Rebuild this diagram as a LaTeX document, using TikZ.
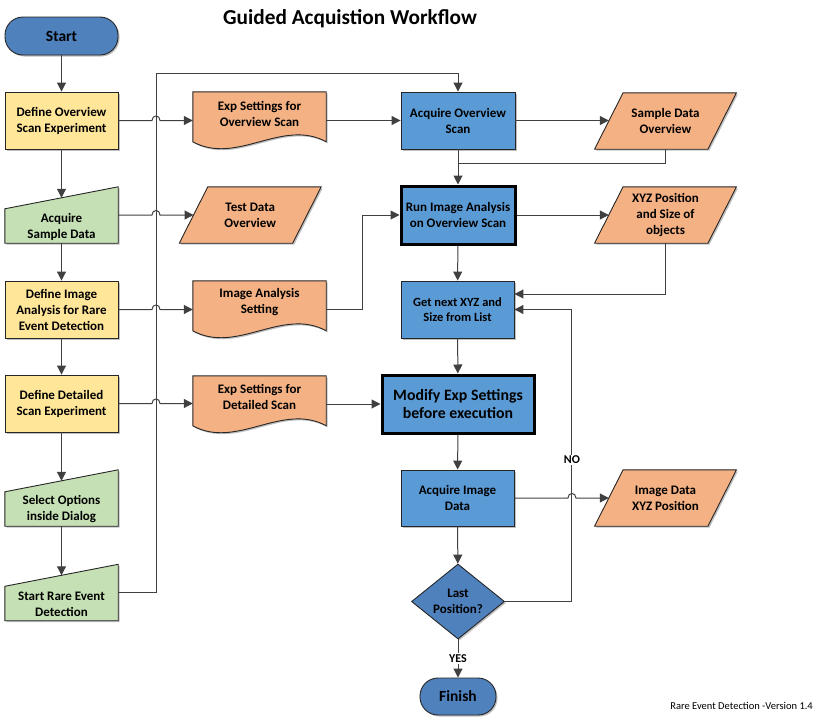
\documentclass[tikz,border=0pt]{standalone}
\usepackage{fontspec}
\setmainfont{Carlito}
\usetikzlibrary{arrows.meta,calc,shapes.geometric,shadows}
\definecolor{pillblue}{HTML}{4F81BD}
\definecolor{boxblue}{HTML}{5B9BD5}
\definecolor{orng}{HTML}{F4B183}
\definecolor{yel}{HTML}{FFE699}
\definecolor{grn}{HTML}{C5E0B4}
\definecolor{bordercol}{HTML}{262626}
\definecolor{linecol}{HTML}{404040}
\tikzset{
  base/.style={draw=bordercol, line width=0.9pt, drop shadow={shadow xshift=1.5pt, shadow yshift=-1.5pt, fill=black, opacity=0.25}},
  txt/.style={font=\fontsize{13}{16}\selectfont\bfseries, align=center, text=black, inner sep=0pt},
  box/.style={base, txt, rectangle, minimum width=113pt, minimum height=57pt},
  bigbox/.style={box, draw=black, line width=3pt},
  pill/.style={base, txt, rectangle, rounded corners=18pt, font=\fontsize{15.5}{18}\selectfont\bfseries},
  blank/.style={draw=none, fill=none, inner sep=0pt, rectangle},
  docnode/.style={blank, minimum width=133pt, minimum height=56pt},
  paranode/.style={blank, minimum width=113pt, minimum height=56pt},
  manode/.style={blank, minimum width=113pt, minimum height=56pt},
  conn/.style={draw=linecol, line width=1pt},
  arr/.style={conn, -{Triangle[length=9pt,width=9pt]}},
  lbl/.style={font=\fontsize{12}{14}\selectfont\bfseries, inner sep=1.5pt, fill=white, text=black},
  titlestyle/.style={font=\fontsize{21.3}{24}\selectfont\bfseries, text=black},
}
\newcommand\ManInShape[2]{\path[base, fill=#2] (#1.south west) -- ($(#1.north west)+(0,22)$) -- (#1.north east) -- (#1.south east) -- cycle;}
\newcommand\DocShape[1]{\path[base, fill=orng] (#1.north west) -- (#1.north east) -- ($(#1.north east)+(0,50)$) .. controls ($(#1.north east)+(-44,26)$) and ($(#1.north west)+(44,74)$) .. ($(#1.north west)+(0,50)$) -- cycle;}
\newcommand\ParaShape[1]{\path[base, fill=orng] ($(#1.south west)+(-14.25,0)$) -- ($(#1.north west)+(14.25,0)$) -- ($(#1.north east)+(14.25,0)$) -- ($(#1.south east)+(-14.25,0)$) -- cycle;}
\begin{document}
\begin{tikzpicture}[x=1pt,y=-1pt]
\useasboundingbox (0,0) rectangle (820,723);
\node[titlestyle] (title) at (350,19) {Guided Acquistion Workflow};

% ---------- left column
\node[pill, fill=pillblue, minimum width=113pt, minimum height=38pt] (start) at (61.5,36) {Start};
\node[box, fill=yel] (dos) at (61.5,120.5) {Define Overview\\Scan Experiment};
\node[manode] (asd) at (61.5,215) {};
\ManInShape{asd}{grn}
\node[txt] (asdt) at ($(asd.center)+(0,12)$) {Acquire\\Sample Data};
\node[box, fill=yel] (dia) at (61.5,309.5) {Define Image\\Analysis for Rare\\Event Detection};
\node[box, fill=yel] (dds) at (61.5,403.5) {Define Detailed\\Scan Experiment};
\node[manode] (sod) at (61.5,498) {};
\ManInShape{sod}{grn}
\node[txt] (sodt) at ($(sod.center)+(0,11)$) {Select Options\\inside Dialog};
\node[manode] (sre) at (61.5,592.5) {};
\ManInShape{sre}{grn}
\node[txt] (sret) at ($(sre.center)+(0,11.5)$) {Start Rare Event\\Detection};

% ---------- middle column
\node[docnode] (eso) at (259.5,120) {};
\DocShape{eso}
\node[txt] (esot) at ($(eso.north)+(0,22)$) {Exp Settings for\\Overview Scan};
\node[paranode] (tdo) at (250.25,215) {};
\ParaShape{tdo}
\node[txt] (tdot) at (tdo.center) {Test Data\\Overview};
\node[docnode] (ias) at (259.5,309) {};
\DocShape{ias}
\node[txt] (iast) at ($(ias.north)+(0,21.5)$) {Image Analysis\\Setting};
\node[docnode] (esd) at (259.5,404) {};
\DocShape{esd}
\node[txt] (esdt) at ($(esd.north)+(0,21.5)$) {Exp Settings for\\Detailed Scan};

% ---------- process column
\node[box, fill=boxblue, minimum width=114pt] (aos) at (458,120.5) {Acquire Overview\\Scan};
\node[bigbox, fill=boxblue, minimum width=114pt, minimum height=58pt] (ria) at (458,215) {Run Image Analysis\\on Overview Scan};
\node[box, fill=boxblue, font=\fontsize{12.5}{15}\selectfont\bfseries] (gnx) at (457.5,309.5) {Get next XYZ and\\Size from List};
\node[bigbox, fill=boxblue, minimum width=152pt, minimum height=58pt, font=\fontsize{15.8}{18}\selectfont\bfseries] (mes) at (458,404) {Modify Exp Settings\\before execution};
\node[box, fill=boxblue, minimum height=56pt] (aid) at (457.5,498) {Acquire Image\\Data};
\node[base, txt, diamond, fill=pillblue, aspect=1.24, minimum width=93pt, minimum height=75pt] (lp) at (458,601.5) {Last\\Position?};
\node[pill, fill=pillblue, minimum width=76pt, minimum height=37pt] (fin) at (458,696.5) {Finish};

% ---------- data column
\node[paranode] (sdo) at (665.5,121) {};
\ParaShape{sdo}
\node[txt] (sdot) at (sdo.center) {Sample Data\\Overview};
\node[paranode] (xyz) at (665.5,215) {};
\ParaShape{xyz}
\node[txt] (xyzt) at (xyz.center) {XYZ Position\\and Size of\\objects};
\node[paranode] (idx) at (665.5,498) {};
\ParaShape{idx}
\node[txt] (idxt) at (idx.center) {Image Data\\XYZ Position};

% ---------- connectors, left column
\draw[arr] (start) -- (dos);
\draw[arr] (dos.south) -- ($(asd.north)+(0,11)$);
\draw[arr] (asd.south) -- (dia.north);
\draw[arr] (dia) -- (dds);
\draw[arr] (dds.south) -- ($(sod.north)+(0,11)$);
\draw[arr] (sod.south) -- ($(sre.north)+(0,11)$);

% big loop from Start Rare Event Detection
\coordinate (tl) at (156,73);
\draw[arr] (sre.east) -| (tl) -| (aos.north);

% horizontal connectors with hops
\draw[arr] (dos.east) -- ($(dos.east -| tl)+(-4,0)$) .. controls +(0,-6) and +(0,-6) .. ($(dos.east -| tl)+(4,0)$) -- (dos.east -| eso.west);
\draw[arr] (asd.east) -- ($(asd.east -| tl)+(-4,0)$) .. controls +(0,-6) and +(0,-6) .. ($(asd.east -| tl)+(4,0)$) -- (asd.east -| tdo.west);
\draw[arr] (dia.east) -- ($(dia.east -| tl)+(-4,0)$) .. controls +(0,-6) and +(0,-6) .. ($(dia.east -| tl)+(4,0)$) -- (dia.east -| ias.west);
\draw[arr] (dds.east) -- ($(dds.east -| tl)+(-4,0)$) .. controls +(0,-6) and +(0,-6) .. ($(dds.east -| tl)+(4,0)$) -- (dds.east -| esd.west);

% ---------- connectors, right part
\draw[arr] (aos.west -| eso.east) -- (aos.west);
\draw[arr] (aos.east) -- (aos.east -| sdo.west);
\draw[arr] (aos) -- (ria);
\draw[conn] (sdo.south) |- ($(aos.south)!0.4!(ria.north)$);
\draw[arr] (ria.east) -- (ria.east -| xyz.west);
\draw[arr] (xyz.south) |- ($(gnx.east)+(0,-15.5)$);
\coordinate (m1) at ($(ias.east)!0.5!(ria.west |- ias.east)$);
\draw[arr] (ias.east) -- (m1) |- (ria.west);
\draw[arr] (ria) -- (gnx);
\draw[arr] (gnx) -- (mes);
\draw[arr] (mes.west -| esd.east) -- (mes.west);
\draw[arr] (mes) -- (aid);
\draw[arr] (aid) -- (lp);
\draw[arr] (lp) -- node[lbl] {YES} (fin);

% NO loop
\coordinate (nc) at ($(lp.east)+(67,0)$);
\draw[arr] (lp.east) -- (nc) |- (gnx.east);
\path (nc) ++(0,-141.5) node[lbl] (nolbl) {NO};
\coordinate (x1) at (nc |- aid.east);
\draw[arr] (aid.east) -- ($(x1)+(-4,0)$) .. controls +(0,-6) and +(0,-6) .. ($(x1)+(4,0)$) -- (aid.east -| idx.west);

% footer
\node[anchor=east, font=\fontsize{10.5}{12}\selectfont, text=black, inner sep=0pt] (footer) at (813,706) {Rare Event Detection -Version 1.4};
\end{tikzpicture}
\end{document}
